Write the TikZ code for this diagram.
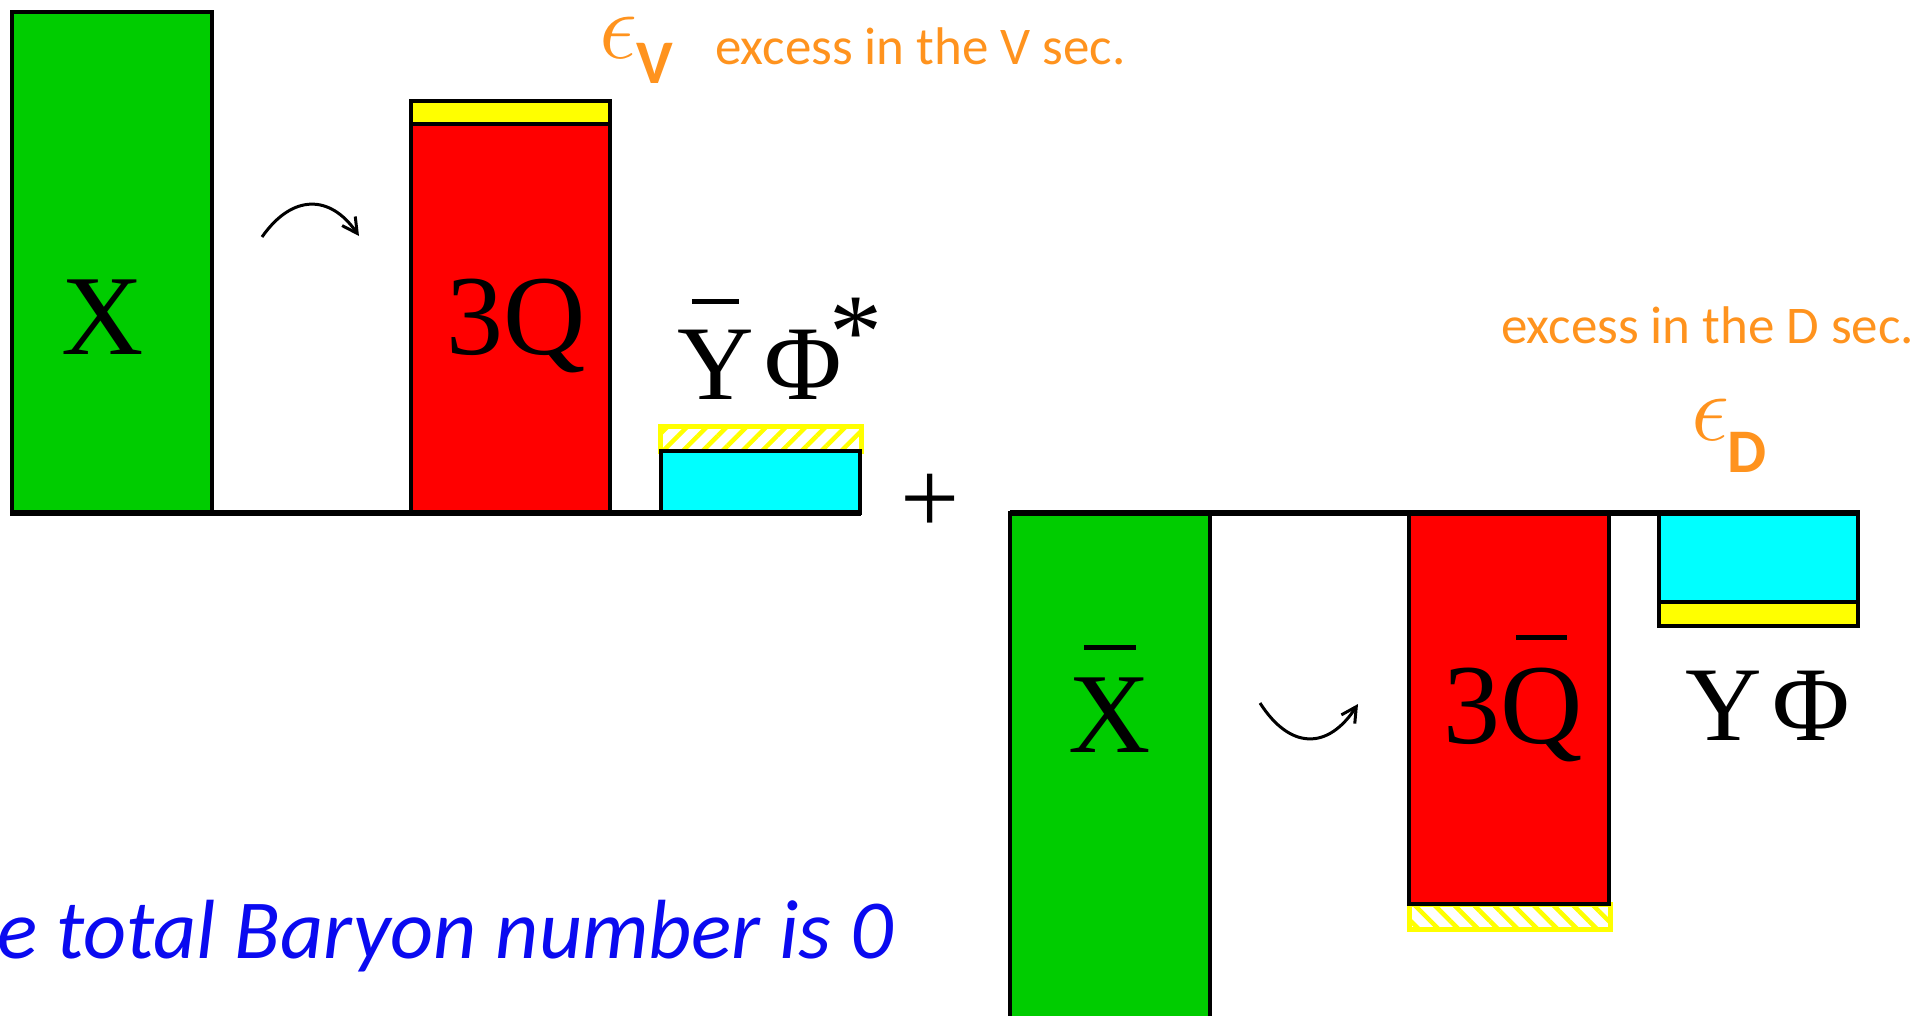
\RequirePackage{fix-cm}
\documentclass[tikz,border=0pt]{standalone}
\usepackage{fontspec}
\setmainfont{Liberation Serif}
\newfontfamily\calibfont{Carlito}
\usepackage{tikz}
\usetikzlibrary{arrows.meta, positioning, patterns.meta}
\definecolor{barGreen}{RGB}{0,204,0}
\definecolor{barRed}{RGB}{255,0,0}
\definecolor{barYellow}{RGB}{255,255,0}
\definecolor{barCyan}{RGB}{0,255,255}
\definecolor{excOrange}{RGB}{255,147,30}
\definecolor{noteBlue}{RGB}{10,10,240}
\newcommand\ovbar[1]{\setbox0=\hbox{#1}\rlap{\hbox to \wd0{\hss\rule[\dimexpr\ht0+0.24em\relax]{0.62\wd0}{0.045em}\hss}}\box0}
\tikzset{
  bar/.style={draw=black, line width=4pt},
  axisline/.style={draw=black, line width=5.5pt},
  hatch/.style={draw=barYellow, line width=5pt,
    pattern={Lines[angle=#1,distance=14pt,line width=4.5pt]}, pattern color=barYellow},
  big/.style={font=\fontsize{114}{114}\selectfont, inner sep=0pt, anchor=base},
  mid/.style={font=\fontsize{106}{106}\selectfont, inner sep=0pt, anchor=base west},
  excess/.style={font=\calibfont\fontsize{53}{53}\selectfont, text=excOrange,
    inner sep=0pt, anchor=base west},
  epsl/.style={font=\fontsize{96}{96}\selectfont, text=excOrange, inner sep=0pt},
  subl/.style={font=\calibfont\bfseries\fontsize{62}{62}\selectfont, text=excOrange, inner sep=0pt},
  wiggle/.style={-{Straight Barb[length=15pt,width=16pt]}, line width=3pt}
}
\begin{document}
\begin{tikzpicture}[x=1pt, y=-1pt]
  \useasboundingbox (0,0) rectangle (1926,1015);
  % visible sector
  \draw[bar, fill=barGreen] (12,12) rectangle (212,513);
  \draw[bar, fill=barYellow] (411,101) rectangle (610,124);
  \draw[bar, fill=barRed] (411,124) rectangle (610,513);
  \draw[hatch=45] (660,426) rectangle (861,451);
  \draw[bar, fill=barCyan] (661,451) rectangle (860,513);
  \draw[axisline] (10,513) -- (861,513);
  % dark sector
  \draw[bar, fill=barGreen] (1010,513) rectangle (1210,1020);
  \draw[hatch=-45] (1409,904) rectangle (1610,929);
  \draw[bar, fill=barRed] (1409,513) rectangle (1609,904);
  \draw[bar, fill=barCyan] (1659,513) rectangle (1858,602);
  \draw[bar, fill=barYellow] (1659,602) rectangle (1858,626);
  \draw[axisline] (1010,513) -- (1860,513);

  \node[big] (xlbl) at (103,354) {X};
  \node[big] (qlbl) at (516,354) {3Q};
  \node[mid] (ybarlbl) at (677,399) {\ovbar{Y}\kern0.1em Φ\kern-0.12em\raisebox{0.3em}{*}};
  \node[big] (xbarlbl) at (1110,752) {\ovbar{X}};
  \node[big] (qbarlbl) at (1513,743) {3\ovbar{Q}};
  \node[mid] (yphilbl) at (1685,740) {Y\kern0.1em Φ};
  \node[font=\fontsize{105}{105}\selectfont, inner sep=0pt] (plus) at (930,504) {+};

  \node[epsl] (epsV) at (618,38) {$\epsilon$};
  \node[subl] (subV) at (655,63) {V};
  \node[excess] (excV) at (715,64) {excess in the V sec.};
  \node[excess] (excD) at (1501,343) {excess in the D sec.};
  \node[epsl] (epsD) at (1710,420) {$\epsilon$};
  \node[subl] (subD) at (1747,452) {D};

  \coordinate (wigVa) at (262,237);
  \coordinate (wigVb) at (359,236);
  \coordinate (wigDa) at (1260,703);
  \coordinate (wigDb) at (1358,704);
  \draw[wiggle] (wigVa) .. controls (292,194) and (330,194) .. (wigVb);
  \draw[wiggle] (wigDa) .. controls (1290,750) and (1328,750) .. (wigDb);

  \node[font=\calibfont\itshape\fontsize{84}{84}\selectfont, text=noteBlue,
    anchor=base west, inner sep=0pt] (total) at (-3,958) {e total Baryon number is 0};
\end{tikzpicture}
\end{document}
